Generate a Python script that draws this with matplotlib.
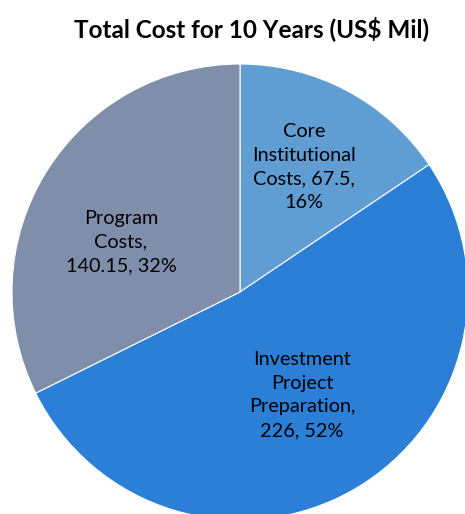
import textwrap
import matplotlib
matplotlib.use("Agg")
import matplotlib.pyplot as plt

title = "Total Cost for 10 Years (US$ Mil)"
categories = ["Core Institutional Costs", "Investment Project Preparation", "Program Costs"]
values = [67.5, 226, 140.15]
value_labels = ["67.5", "226", "140.15"]
colors = ["#5F9DD3", "#2B7FD6", "#7F8FAB"]

# label positions (fraction of radius), style only
label_pos = [(0.281, 0.548), (0.272, -0.452), (-0.522, 0.219)]

W, H = 465, 514
fig = plt.figure(figsize=(W / 100, H / 100), dpi=100)
cx, cy, r = 240, 292, 228
ax = fig.add_axes([(cx - r) / W, (H - cy - r) / H, 2 * r / W, 2 * r / H])

total = sum(values)
wedges, _ = ax.pie(values, colors=colors, startangle=90, counterclock=False,
                   radius=1, wedgeprops=dict(edgecolor="white", linewidth=0.8))
for w in wedges:
    w.set_clip_on(False)
ax.set_xlim(-1, 1)
ax.set_ylim(-1, 1)
ax.set_aspect("equal")
ax.axis("off")

font = "Lato"
for name, vl, v, pos in zip(categories, value_labels, values, label_pos):
    pct = round(v / total * 100)
    txt = "\n".join(textwrap.wrap(f"{name}, {vl}, {pct}%", 13))
    ax.text(pos[0], pos[1], txt, ha="center", va="center", fontsize=14.3,
            family=font, color="#000000", linespacing=1.48)

fig.text(252 / W, 1 - 29 / H, title, ha="center", va="center",
         fontsize=17.5, fontweight="bold", family=font)

fig.savefig("out.png", dpi=100)
